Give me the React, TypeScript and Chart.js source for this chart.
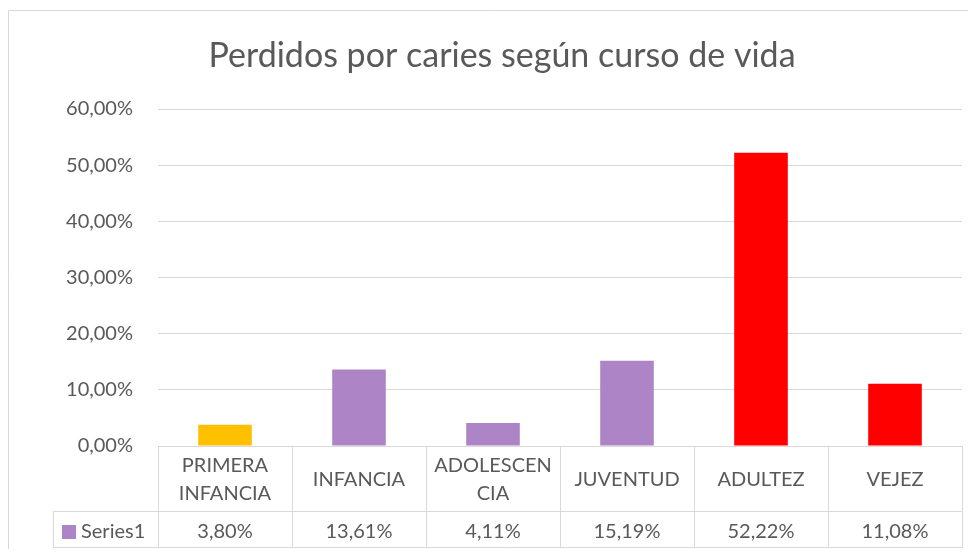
import React, { useEffect, useRef } from "react";
import { Chart, registerables } from "chart.js";

Chart.register(...registerables);

const categories: string[][] = [
  ["PRIMERA", "INFANCIA"],
  ["INFANCIA"],
  ["ADOLESCEN", "CIA"],
  ["JUVENTUD"],
  ["ADULTEZ"],
  ["VEJEZ"],
];
const values: number[] = [3.8, 13.61, 4.11, 15.19, 52.22, 11.08];
const barColors: string[] = ["#FFC000", "#AD85C6", "#AD85C6", "#AD85C6", "#FF0000", "#FF0000"];
const seriesName = "Series1";
const legendColor = "#AD85C6";
const titleText = "Perdidos por caries según curso de vida";

const FONT = "Lato, 'Open Sans', sans-serif";
const TEXT = "#595959";
const LINE = "#D9D9D9";

const fmt = (v: number) => v.toFixed(2).replace(".", ",") + "%";

const tablePlugin = {
  id: "tablePlugin",
  afterDraw(chart: any) {
    const ctx = chart.ctx as CanvasRenderingContext2D;
    const x = chart.scales.x;
    const area = chart.chartArea;
    const n = categories.length;
    const step = (area.right - area.left) / n;
    const top = area.bottom;
    const mid = top + 65;
    const bot = mid + 37;
    const leftCell = area.left - 105;
    ctx.save();
    // outer border
    ctx.strokeStyle = LINE;
    ctx.lineWidth = 1;
    ctx.beginPath();
    ctx.moveTo(0.5, chart.height);
    ctx.lineTo(0.5, 2.5);
    ctx.lineTo(chart.width, 2.5);
    ctx.stroke();
    // title
    ctx.fillStyle = TEXT;
    ctx.font = `34px ${FONT}`;
    ctx.textAlign = "center";
    ctx.textBaseline = "alphabetic";
    ctx.fillText(titleText, 494, 59);
    // table lines
    ctx.strokeStyle = LINE;
    ctx.beginPath();
    ctx.moveTo(area.left, top + 0.5);
    ctx.lineTo(area.right, top + 0.5);
    ctx.moveTo(leftCell, mid + 0.5);
    ctx.lineTo(area.right, mid + 0.5);
    ctx.moveTo(leftCell, bot - 0.5);
    ctx.lineTo(area.right, bot - 0.5);
    ctx.moveTo(leftCell + 0.5, mid);
    ctx.lineTo(leftCell + 0.5, bot);
    for (let i = 0; i <= n; i++) {
      const cx = Math.round(area.left + i * step) + 0.5;
      ctx.moveTo(cx, top);
      ctx.lineTo(cx, bot);
    }
    ctx.stroke();
    // header text
    ctx.fillStyle = TEXT;
    ctx.font = `20px ${FONT}`;
    ctx.textAlign = "center";
    ctx.textBaseline = "alphabetic";
    categories.forEach((lines, i) => {
      const cx = x.getPixelForValue(i);
      const lh = 28;
      const base = top + 40;
      lines.forEach((l, j) => {
        ctx.fillText(l, cx, base + (j - (lines.length - 1) / 2) * lh);
      });
      ctx.fillText(fmt(values[i]), cx, mid + 27);
    });
    // legend cell
    ctx.fillStyle = legendColor;
    ctx.fillRect(leftCell + 9, mid + 14, 14, 14);
    ctx.fillStyle = TEXT;
    ctx.textAlign = "left";
    ctx.fillText(seriesName, leftCell + 28, mid + 27);
    ctx.restore();
  },
};

export default function App() {
  const ref = useRef<HTMLCanvasElement>(null);
  useEffect(() => {
    if (!ref.current) return;
    const chart = new Chart(ref.current, {
      type: "bar",
      data: {
        labels: categories.map((c) => c.join(" ")),
        datasets: [
          {
            label: seriesName,
            data: values,
            backgroundColor: barColors,
            categoryPercentage: 1,
            barPercentage: 0.4,
          },
        ],
      },
      options: {
        animation: false,
        responsive: true,
        maintainAspectRatio: false,
        layout: { padding: { top: 101, bottom: 103, left: 0, right: 6 } },
        plugins: { legend: { display: false }, title: { display: false }, tooltip: { enabled: false } },
        scales: {
          x: { display: false },
          y: {
            min: 0,
            max: 60,
            ticks: {
              stepSize: 10,
              padding: 25,
              color: TEXT,
              font: { family: FONT, size: 20 },
              callback: (v: any) => fmt(Number(v)),
            },
            grid: { color: LINE, drawTicks: false },
            border: { display: false },
            afterFit: (s: any) => {
              s.width = 150;
            },
          },
        },
      },
      plugins: [tablePlugin],
    });
    return () => chart.destroy();
  }, []);
  return (
    <div style={{ width: 960, height: 541, position: "relative" }}>
      <canvas ref={ref} />
    </div>
  );
}
